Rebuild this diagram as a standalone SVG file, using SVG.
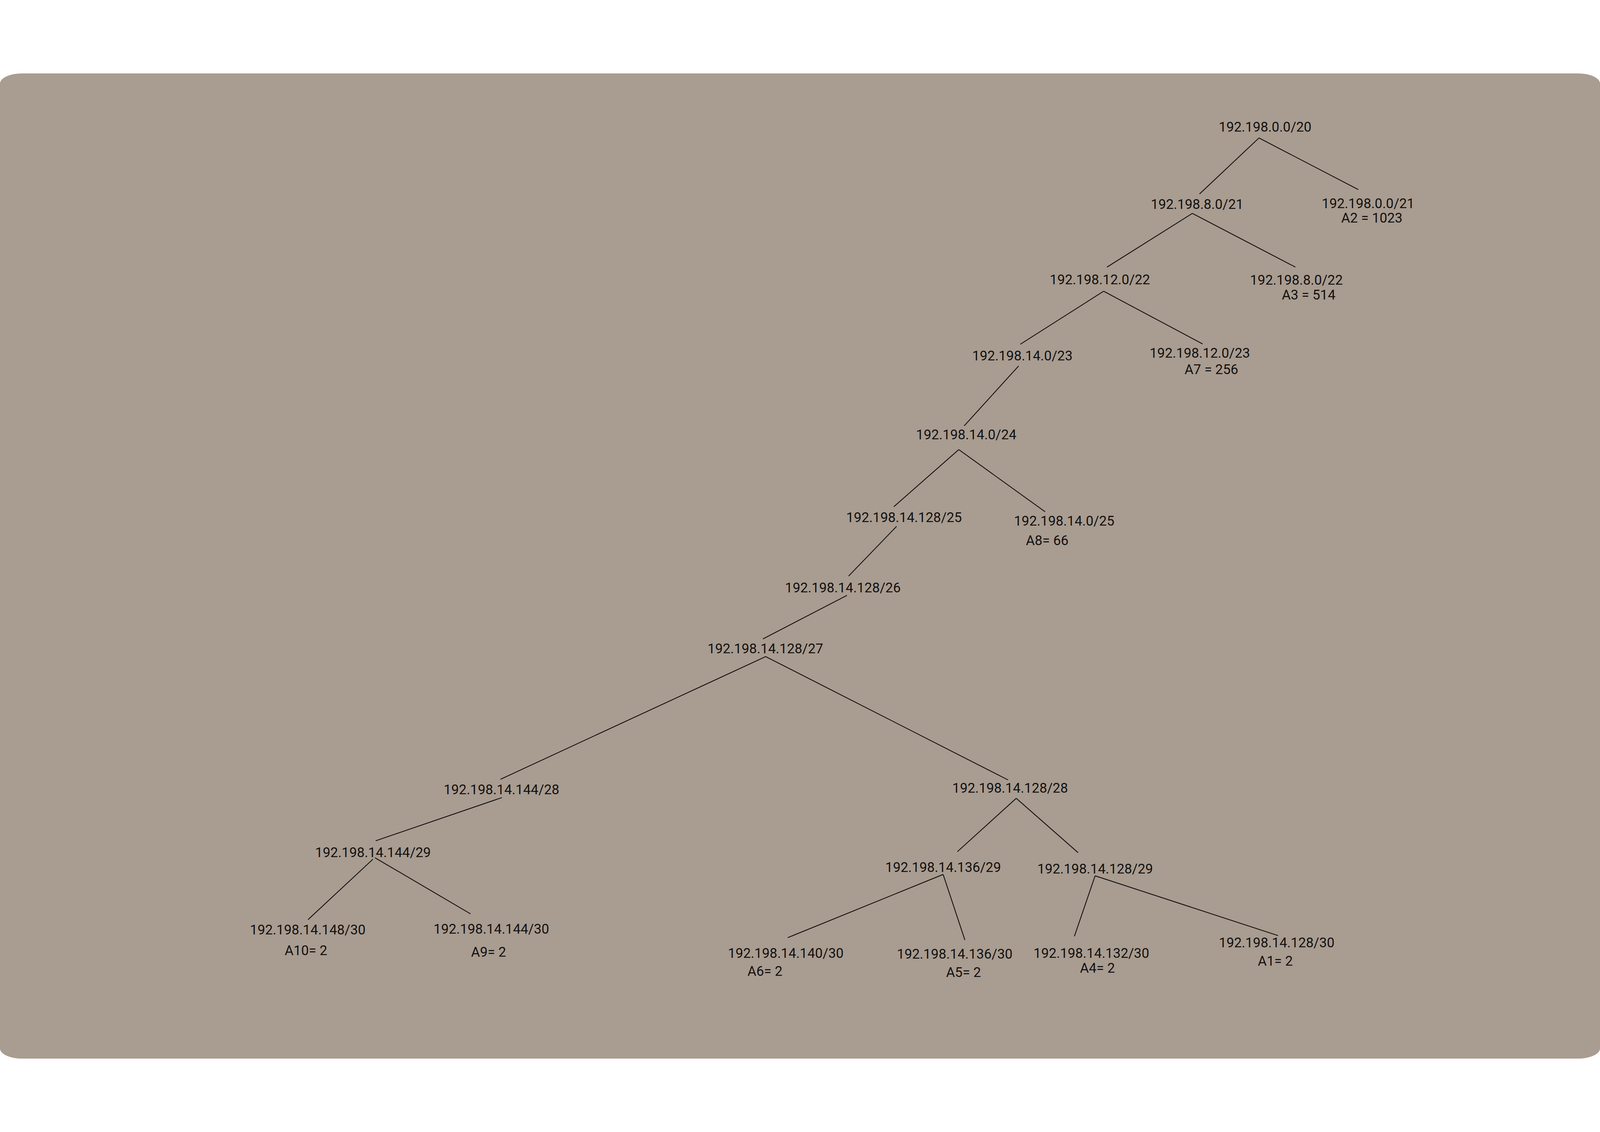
<svg xmlns="http://www.w3.org/2000/svg" width="4706" height="2899" viewBox="0 0 4706 2899">
<style>
svg{max-width:100vw;max-height:100vh}
.t{font-family:Roboto,"Liberation Sans",sans-serif;font-size:40px;fill:#111;text-anchor:middle}
.c line{stroke:#111;stroke-width:2.5;fill:none}
</style>
<rect x="0" y="0" width="4706" height="2899" fill="#ffffff"/>
<rect x="0" y="0" width="4706" height="2899" rx="66" ry="30" fill="#a99c90"/>
<g id="connectors" class="c">
<line x1="3703" y1="190" x2="3528" y2="355"/>
<line x1="3703" y1="190" x2="3995" y2="342"/>
<line x1="3507" y1="412" x2="3256" y2="570"/>
<line x1="3507" y1="412" x2="3810" y2="570"/>
<line x1="3246" y1="641" x2="3001" y2="797"/>
<line x1="3246" y1="641" x2="3537" y2="796"/>
<line x1="2996" y1="861" x2="2836" y2="1037"/>
<line x1="2820" y1="1107" x2="2629" y2="1275"/>
<line x1="2820" y1="1107" x2="3074" y2="1290"/>
<line x1="2637" y1="1333" x2="2496" y2="1479"/>
<line x1="2491" y1="1536" x2="2244" y2="1664"/>
<line x1="2252" y1="1716" x2="1472" y2="2077"/>
<line x1="2252" y1="1716" x2="2965" y2="2079"/>
<line x1="1476" y1="2131" x2="1105" y2="2258"/>
<line x1="2989" y1="2133" x2="2816" y2="2290"/>
<line x1="2989" y1="2133" x2="3171" y2="2293"/>
<line x1="1097" y1="2312" x2="906" y2="2490"/>
<line x1="1103" y1="2308" x2="1384" y2="2473"/>
<line x1="2774" y1="2357" x2="2317" y2="2543"/>
<line x1="2774" y1="2357" x2="2838" y2="2550"/>
<line x1="3221" y1="2361" x2="3160" y2="2539"/>
<line x1="3221" y1="2361" x2="3759" y2="2537"/>
</g>
<g id="n-192.198.0.0-20"><text class="t" x="3721" y="171">192.198.0.0/20</text></g>
<g id="n-192.198.8.0-21"><text class="t" x="3521" y="399">192.198.8.0/21</text></g>
<g id="n-192.198.0.0-21"><text class="t" x="4024" y="397">192.198.0.0/21</text><text class="t" x="4035" y="439">A2 = 1023</text></g>
<g id="n-192.198.12.0-22"><text class="t" x="3235" y="621">192.198.12.0/22</text></g>
<g id="n-192.198.8.0-22"><text class="t" x="3813" y="622">192.198.8.0/22</text><text class="t" x="3849" y="665">A3 = 514</text></g>
<g id="n-192.198.14.0-23"><text class="t" x="3007" y="845">192.198.14.0/23</text></g>
<g id="n-192.198.12.0-23"><text class="t" x="3529" y="837">192.198.12.0/23</text><text class="t" x="3563" y="885">A7 = 256</text></g>
<g id="n-192.198.14.0-24"><text class="t" x="2842" y="1077">192.198.14.0/24</text></g>
<g id="n-192.198.14.128-25"><text class="t" x="2659" y="1320">192.198.14.128/25</text></g>
<g id="n-192.198.14.0-25"><text class="t" x="3130" y="1331">192.198.14.0/25</text><text class="t" x="3080" y="1388">A8= 66</text></g>
<g id="n-192.198.14.128-26"><text class="t" x="2479" y="1527">192.198.14.128/26</text></g>
<g id="n-192.198.14.128-27"><text class="t" x="2251" y="1706">192.198.14.128/27</text></g>
<g id="n-192.198.14.144-28"><text class="t" x="1475" y="2121">192.198.14.144/28</text></g>
<g id="n-192.198.14.128-28"><text class="t" x="2971" y="2116">192.198.14.128/28</text></g>
<g id="n-192.198.14.144-29"><text class="t" x="1097" y="2306">192.198.14.144/29</text></g>
<g id="n-192.198.14.136-29"><text class="t" x="2774" y="2350">192.198.14.136/29</text></g>
<g id="n-192.198.14.128-29"><text class="t" x="3221" y="2354">192.198.14.128/29</text></g>
<g id="n-192.198.14.148-30"><text class="t" x="905" y="2533">192.198.14.148/30</text><text class="t" x="900" y="2594">A10= 2</text></g>
<g id="n-192.198.14.144-30"><text class="t" x="1445" y="2531">192.198.14.144/30</text><text class="t" x="1437" y="2599">A9= 2</text></g>
<g id="n-192.198.14.140-30"><text class="t" x="2311" y="2603">192.198.14.140/30</text><text class="t" x="2250" y="2655">A6= 2</text></g>
<g id="n-192.198.14.136-30"><text class="t" x="2808" y="2605">192.198.14.136/30</text><text class="t" x="2834" y="2659">A5= 2</text></g>
<g id="n-192.198.14.132-30"><text class="t" x="3210" y="2603">192.198.14.132/30</text><text class="t" x="3228" y="2646">A4= 2</text></g>
<g id="n-192.198.14.128-30"><text class="t" x="3755" y="2572">192.198.14.128/30</text><text class="t" x="3751" y="2626">A1= 2</text></g>
</svg>
